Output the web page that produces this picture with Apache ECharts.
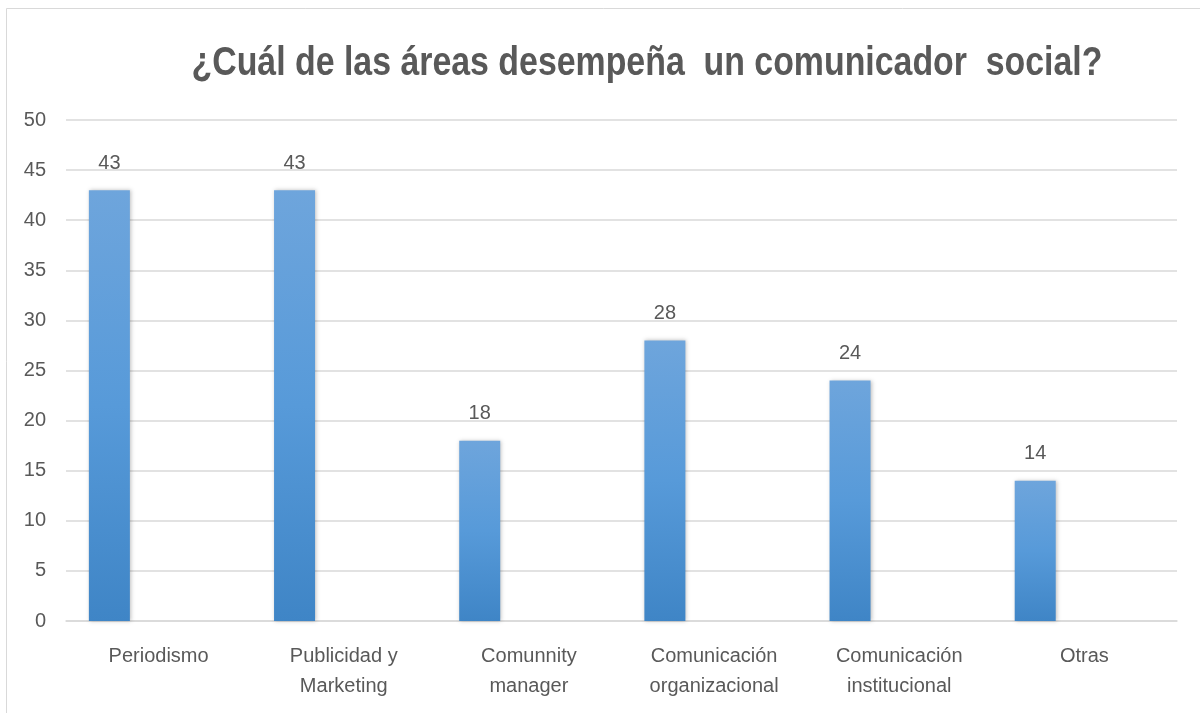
<!DOCTYPE html>
<html>
<head>
<meta charset="utf-8">
<script src="https://cdn.jsdelivr.net/npm/echarts@6/dist/echarts.min.js"></script>
<style>
  html, body { margin: 0; padding: 0; background: #ffffff; }
  #chart { width: 1200px; height: 713px; }
</style>
</head>
<body>
<div id="chart"></div>
<script>
// Survey answers: areas where a social communicator works
const titleText = '¿Cuál de las áreas desempeña  un comunicador  social?';
const categories = [
  'Periodismo',
  'Publicidad y\nMarketing',
  'Comunnity\nmanager',
  'Comunicación\norganizacional',
  'Comunicación\ninstitucional',
  'Otras'
];
const responses = [43, 43, 18, 28, 24, 14];
// second (empty) series slot keeps each bar on the left of its category
const emptySlot = [null, null, null, null, null, null];
const yTicks = { min: 0, max: 50, interval: 5 };

const textGray = '#595959';
const gridGray = '#d9d9d9';
const labelFont = "'Liberation Sans', Arial, sans-serif";

const chart = echarts.init(document.getElementById('chart'), null, { renderer: 'canvas' });

chart.setOption({
  animation: false,
  backgroundColor: '#ffffff',
  graphic: [
    {
      // chart-area frame
      type: 'rect',
      silent: true,
      shape: { x: 6.5, y: 8.5, width: 1300, height: 800 },
      style: { fill: 'none', stroke: '#d9d9d9', lineWidth: 1 }
    },
    {
      // condensed bold heading
      type: 'text',
      silent: true,
      x: 647,
      y: 64,
      scaleX: 0.826,
      style: {
        text: titleText,
        x: 0,
        y: 0,
        textAlign: 'center',
        textVerticalAlign: 'middle',
        fill: textGray,
        fontFamily: "'Liberation Sans', Arial, sans-serif",
        fontWeight: 'bold',
        fontSize: 41
      }
    }
  ],
  grid: { left: 66, right: 23, top: 120, bottom: 92, containLabel: false },
  xAxis: {
    type: 'category',
    data: categories,
    axisLine: { show: true, lineStyle: { color: gridGray, width: 1.5 } },
    axisTick: { show: false },
    axisLabel: {
      color: textGray,
      fontFamily: labelFont,
      fontSize: 20,
      lineHeight: 30,
      margin: 20,
      interval: 0
    }
  },
  yAxis: {
    type: 'value',
    min: yTicks.min,
    max: yTicks.max,
    interval: yTicks.interval,
    axisLine: { show: false },
    axisTick: { show: false },
    splitLine: { lineStyle: { color: gridGray, width: 1.5 } },
    axisLabel: {
      color: textGray,
      fontFamily: labelFont,
      fontSize: 20,
      margin: 20
    }
  },
  series: [
    {
      type: 'bar',
      data: responses,
      barWidth: 41,
      barGap: '140%',
      itemStyle: {
        color: new echarts.graphic.LinearGradient(0, 0, 0, 1, [
          { offset: 0, color: '#6ea5dc' },
          { offset: 0.5, color: '#579ad9' },
          { offset: 1, color: '#3f85c6' }
        ]),
        shadowColor: 'rgba(0,0,0,0.25)',
        shadowBlur: 4,
        shadowOffsetX: 1,
        shadowOffsetY: 0
      },
      label: {
        show: true,
        position: 'top',
        distance: 17,
        color: textGray,
        fontFamily: labelFont,
        fontSize: 20
      }
    },
    {
      type: 'bar',
      data: emptySlot,
      barWidth: 41,
      itemStyle: { color: 'transparent' }
    }
  ]
});
</script>
</body>
</html>
